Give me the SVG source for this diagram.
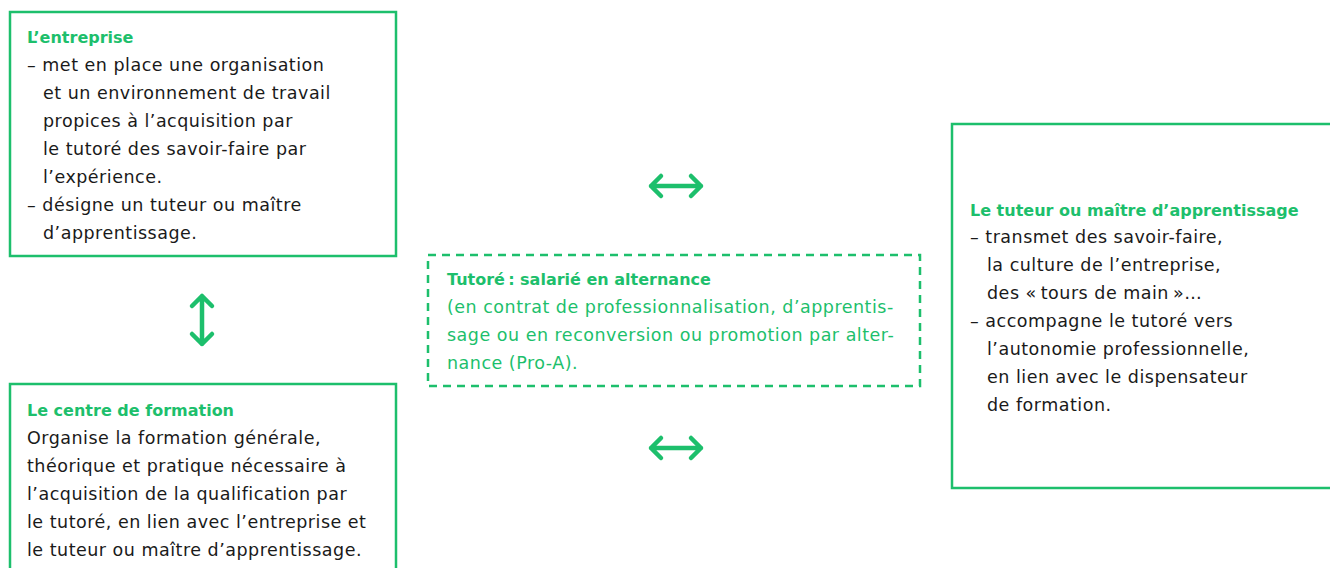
<svg xmlns="http://www.w3.org/2000/svg" width="1330" height="568" viewBox="0 0 1330 568">
<defs>
<style>
.box{fill:#fff;stroke:#1dbf6c;stroke-width:2.5}
.dash{fill:#fff;stroke:#1dbf6c;stroke-width:2.5;stroke-dasharray:8 6}
.t{font-family:"DejaVu Sans","Liberation Sans",sans-serif;font-size:17.5px;letter-spacing:0.5px;fill:#1a1a1a}
.h{font-family:"DejaVu Sans","Liberation Sans",sans-serif;font-size:16px;font-weight:bold;fill:#1dbf6c}
.g{fill:#1dbf6c}
.arr{fill:none;stroke:#1dbf6c;stroke-width:4.5;stroke-linecap:round;stroke-linejoin:round}
</style>
</defs>
<rect width="1330" height="568" fill="#fff"/>
<g id="entreprise">
<rect class="box" x="10" y="12" width="386" height="244"/>
<text class="h" x="27" y="43">L’entreprise</text>
<text class="t" x="27" y="71">– met en place une organisation</text>
<text class="t" x="43" y="99">et un environnement de travail</text>
<text class="t" x="43" y="127">propices à l’acquisition par</text>
<text class="t" x="43" y="155">le tutoré des savoir-faire par</text>
<text class="t" x="43" y="183">l’expérience.</text>
<text class="t" x="27" y="211">– désigne un tuteur ou maître</text>
<text class="t" x="43" y="239">d’apprentissage.</text>
</g>
<g id="centre">
<rect class="box" x="10" y="384" width="386" height="200"/>
<text class="h" x="27" y="416">Le centre de formation</text>
<text class="t" x="27" y="444">Organise la formation générale,</text>
<text class="t" x="27" y="472">théorique et pratique nécessaire à</text>
<text class="t" x="27" y="500">l’acquisition de la qualification par</text>
<text class="t" x="27" y="528">le tutoré, en lien avec l’entreprise et</text>
<text class="t" x="27" y="556">le tuteur ou maître d’apprentissage.</text>
</g>
<g id="tutore">
<rect class="dash" x="428" y="255" width="492" height="131"/>
<text class="h" x="447" y="285">Tutoré&#8239;: salarié en alternance</text>
<text class="t g" x="447" y="313">(en contrat de professionnalisation, d’apprentis-</text>
<text class="t g" x="447" y="341">sage ou en reconversion ou promotion par alter-</text>
<text class="t g" x="447" y="369">nance (Pro-A).</text>
</g>
<g id="tuteur">
<rect class="box" x="952" y="124" width="400" height="364"/>
<text class="h" x="970" y="216">Le tuteur ou maître d’apprentissage</text>
<text class="t" x="970" y="243">– transmet des savoir-faire,</text>
<text class="t" x="987" y="271">la culture de l’entreprise,</text>
<text class="t" x="987" y="299">des «&#8239;tours de main&#8239;»…</text>
<text class="t" x="970" y="327">– accompagne le tutoré vers</text>
<text class="t" x="987" y="355">l’autonomie professionnelle,</text>
<text class="t" x="987" y="383">en lien avec le dispensateur</text>
<text class="t" x="987" y="411">de formation.</text>
</g>
<g id="connectors">
<path class="arr" d="M651 186H701M661 176L651 186L661 196M691 176L701 186L691 196"/>
<path class="arr" d="M651 448H701M661 438L651 448L661 458M691 438L701 448L691 458"/>
<path class="arr" d="M202 296V344M192 306L202 296L212 306M192 334L202 344L212 334"/>
</g>
</svg>
